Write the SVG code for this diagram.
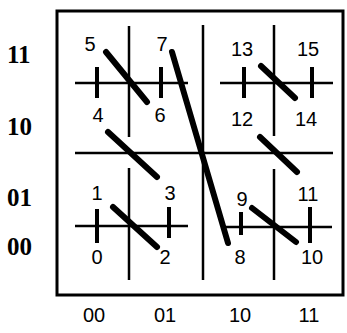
<svg xmlns="http://www.w3.org/2000/svg" width="347" height="333" viewBox="0 0 347 333">
<style>
.box{fill:none;stroke:#000;stroke-width:3}
.thin{stroke:#000;stroke-width:2.5;fill:none}
.tick{stroke:#000;stroke-width:4;fill:none}
.diag{stroke:#000;stroke-width:6;stroke-linecap:round;fill:none}
.lbl{font-family:"Liberation Sans",Arial,sans-serif;font-size:20px;text-anchor:middle;fill:#000}
.ax{font-family:"Liberation Serif","Times New Roman",serif;font-size:25px;font-weight:bold;fill:#000}
</style>
<rect width="347" height="333" fill="#fff"/>
<g id="frame">
<rect class="box" x="57" y="11" width="286" height="284"/>
</g>
<g id="grid">
<line class="thin" x1="75" y1="153" x2="333" y2="153"/>
<line class="thin" x1="203" y1="25" x2="203" y2="280"/>
<line class="thin" x1="129" y1="26" x2="129" y2="137"/>
<line class="thin" x1="129" y1="168" x2="129" y2="280"/>
<line class="thin" x1="274" y1="25" x2="274" y2="136"/>
<line class="thin" x1="274" y1="169" x2="274" y2="280"/>
</g>
<g id="quad-11">
<line class="thin" x1="75" y1="83" x2="188" y2="83"/>
<line class="tick" x1="97" y1="67" x2="97" y2="98"/>
<line class="tick" x1="161" y1="67" x2="161" y2="98"/>
<line class="diag" x1="106" y1="52" x2="147" y2="102"/>
<text class="lbl" x="90" y="51">5</text>
<text class="lbl" x="162" y="51">7</text>
<text class="lbl" x="98" y="122">4</text>
<text class="lbl" x="160" y="122">6</text>
</g>
<g id="quad-13">
<line class="thin" x1="220" y1="83" x2="333" y2="83"/>
<line class="tick" x1="244" y1="67" x2="244" y2="98"/>
<line class="tick" x1="312" y1="67" x2="312" y2="98"/>
<line class="diag" x1="261" y1="66" x2="295" y2="98"/>
<text class="lbl" x="242" y="56">13</text>
<text class="lbl" x="308" y="56">15</text>
<text class="lbl" x="242" y="126">12</text>
<text class="lbl" x="306" y="126">14</text>
</g>
<g id="quad-1">
<line class="thin" x1="75" y1="226" x2="188" y2="226"/>
<line class="tick" x1="97" y1="209" x2="97" y2="243"/>
<line class="tick" x1="169" y1="207" x2="169" y2="238"/>
<line class="diag" x1="113" y1="207" x2="157" y2="247"/>
<text class="lbl" x="97" y="200">1</text>
<text class="lbl" x="170" y="200">3</text>
<text class="lbl" x="97" y="264">0</text>
<text class="lbl" x="165" y="264">2</text>
</g>
<g id="quad-9">
<line class="thin" x1="226" y1="227" x2="332" y2="227"/>
<line class="tick" x1="241" y1="212" x2="241" y2="235"/>
<line class="tick" x1="310" y1="207" x2="310" y2="243"/>
<line class="diag" x1="252" y1="208" x2="296" y2="242"/>
<text class="lbl" x="242" y="206">9</text>
<text class="lbl" x="308" y="201">11</text>
<text class="lbl" x="240" y="264">8</text>
<text class="lbl" x="312" y="264">10</text>
</g>
<g id="connectors">
<line class="diag" x1="108" y1="132" x2="157" y2="177"/>
<line class="diag" x1="260" y1="137" x2="297" y2="172"/>
<line class="diag" x1="172" y1="52" x2="228" y2="243"/>
</g>
<g id="axes">
<text class="ax" x="7" y="63">11</text>
<text class="ax" x="7" y="135">10</text>
<text class="ax" x="7" y="206">01</text>
<text class="ax" x="7" y="255">00</text>
<text class="lbl" x="94" y="322">00</text>
<text class="lbl" x="165" y="322">01</text>
<text class="lbl" x="240" y="322">10</text>
<text class="lbl" x="309" y="322">11</text>
</g>
</svg>
